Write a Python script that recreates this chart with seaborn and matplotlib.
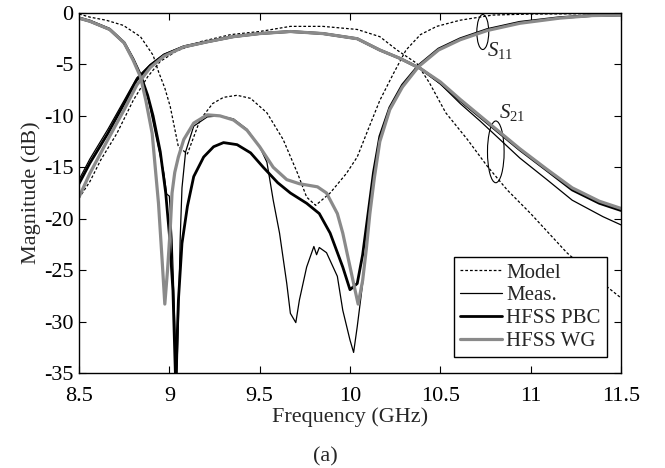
import matplotlib
matplotlib.use("Agg")
import matplotlib.pyplot as plt
import seaborn as sns
from matplotlib.patches import Ellipse
from matplotlib.ticker import FormatStrFormatter

# ---- data (frequency in GHz, magnitude in dB) ----
model_s11_f = [8.5, 8.56, 8.65, 8.745, 8.84, 8.91, 8.94, 8.975, 9.005, 9.05, 9.10, 9.17,
               9.24, 9.30, 9.375, 9.45, 9.54, 9.63, 9.71, 9.76, 9.81, 9.89, 9.98, 10.04,
               10.11, 10.165, 10.24, 10.31, 10.39, 10.48, 10.61, 10.79, 11.0, 11.5]
model_s11_db = [-0.1, -0.4, -0.7, -1.2, -2.3, -4.1, -5.7, -7.3, -9.1, -13.0, -13.7, -10.4,
                -8.8, -8.2, -8.0, -8.3, -9.7, -12.3, -15.6, -17.9, -18.7, -17.5, -15.6, -14.0,
                -10.9, -8.5, -5.9, -3.6, -2.1, -1.3, -0.7, -0.2, -0.1, -0.05]

model_s21_f = [8.5, 8.56, 8.62, 8.71, 8.80, 8.88, 8.95, 9.04, 9.17, 9.34, 9.50, 9.67, 9.85,
               10.04, 10.165, 10.26, 10.37, 10.44, 10.53, 10.65, 10.76, 10.87, 11.0, 11.2,
               11.35, 11.5]
model_s21_db = [-18.0, -16.4, -14.3, -11.7, -8.5, -6.2, -4.7, -3.7, -2.8, -2.1, -1.8, -1.3, -1.3,
                -1.6, -2.3, -3.6, -4.9, -6.8, -9.7, -12.3, -14.9, -17.2, -19.5, -23.3,
                -25.6, -27.7]

meas_s11_f = [8.5, 8.56, 8.67, 8.75, 8.80, 8.84, 8.885, 8.93, 8.97, 8.985, 9.0, 9.015, 9.03,
              9.04, 9.05, 9.06, 9.07, 9.09, 9.135, 9.21, 9.28, 9.355, 9.43, 9.50, 9.54, 9.575,
              9.61, 9.65, 9.67, 9.70, 9.72, 9.76, 9.80, 9.815, 9.83, 9.87, 9.93, 9.96, 10.0,
              10.02, 10.04, 10.07, 10.1, 10.13, 10.165, 10.22, 10.29, 10.38, 10.49, 10.61,
              10.76, 10.94, 11.16, 11.34, 11.5]
meas_s11_db = [-0.4, -0.7, -1.5, -2.8, -4.4, -6.0, -8.5, -12.3, -15.6, -17.6, -17.8, -22.0, -30.0,
               -37.0, -30.0, -22.0, -17.0, -13.5, -11.0, -10.1, -10.0, -10.3, -11.3, -13.0, -14.5,
               -18.2, -21.4, -26.3, -29.2, -30.1, -27.9, -24.7, -22.7, -23.5, -22.8, -23.3, -25.6,
               -28.9, -31.8, -33.0, -30.5, -26.3, -20.5, -16.0, -12.3, -9.4, -7.2, -5.2, -3.6,
               -2.6, -1.6, -0.9, -0.45, -0.25, -0.2]

meas_s21_f = [8.5, 8.56, 8.66, 8.75, 8.82, 8.895, 8.97, 9.08, 9.21, 9.355, 9.50, 9.67, 9.85,
              10.04, 10.165, 10.275, 10.39, 10.50, 10.61, 10.72, 10.83, 10.94, 11.09, 11.23,
              11.40, 11.5]
meas_s21_db = [-16.2, -14.2, -11.3, -8.5, -6.3, -5.0, -4.0, -3.2, -2.7, -2.3, -2.0, -1.8, -2.0,
               -2.5, -3.6, -4.4, -5.4, -6.9, -8.8, -10.5, -12.3, -14.1, -16.2, -18.2,
               -19.8, -20.6]

pbc_s11_f = [8.5, 8.56, 8.67, 8.75, 8.80, 8.84, 8.88, 8.91, 8.95, 8.98, 9.0, 9.02, 9.035, 9.05,
             9.07, 9.10, 9.135, 9.19, 9.245, 9.30, 9.375, 9.45, 9.52, 9.60, 9.67, 9.76, 9.83,
             9.89, 9.96, 10.0, 10.04, 10.07, 10.1, 10.13, 10.165, 10.22, 10.29, 10.38, 10.49,
             10.61, 10.76, 10.94, 11.16, 11.34, 11.5]
pbc_s11_db = [-0.5, -0.8, -1.6, -2.9, -4.5, -6.0, -8.0, -10.0, -13.5, -17.5, -21.5, -27.0, -36.0,
              -28.0, -22.4, -18.8, -15.9, -14.0, -13.0, -12.6, -12.8, -13.6, -15.0, -16.5, -17.5,
              -18.5, -19.5, -21.4, -24.7, -26.9, -26.3, -23.5, -19.5, -15.5, -12.0, -9.2, -7.0,
              -5.1, -3.5, -2.5, -1.6, -0.9, -0.45, -0.25, -0.2]

pbc_s21_f = [8.5, 8.56, 8.66, 8.75, 8.82, 8.895, 8.97, 9.08, 9.21, 9.355, 9.50, 9.67, 9.85,
             10.04, 10.165, 10.275, 10.39, 10.50, 10.61, 10.72, 10.83, 10.94, 11.09, 11.23,
             11.38, 11.5]
pbc_s21_db = [-16.6, -14.6, -11.7, -8.8, -6.5, -5.1, -4.1, -3.3, -2.8, -2.3, -2.0, -1.8, -2.0,
              -2.5, -3.6, -4.4, -5.4, -6.8, -8.5, -10.1, -11.7, -13.3, -15.3, -17.2,
              -18.5, -19.2]

wg_s11_f = [8.5, 8.56, 8.67, 8.75, 8.80, 8.84, 8.87, 8.905, 8.925, 8.94, 8.96, 8.975, 8.99,
            9.005, 9.015, 9.03, 9.05, 9.08, 9.135, 9.21, 9.28, 9.355, 9.43, 9.50, 9.575, 9.65,
            9.72, 9.82, 9.87, 9.93, 9.96, 10.02, 10.045, 10.07, 10.09, 10.11, 10.135, 10.165,
            10.22, 10.29, 10.38, 10.49, 10.61, 10.76, 10.94, 11.16, 11.34, 11.5]
wg_s11_db = [-0.5, -0.8, -1.6, -2.9, -4.6, -6.2, -8.5, -11.7, -15.6, -18.5, -24.0, -28.3, -25.0,
             -21.0, -17.5, -15.5, -14.0, -12.3, -10.7, -9.9, -10.0, -10.4, -11.4, -13.0, -15.0,
             -16.2, -16.6, -16.9, -17.5, -19.5, -21.4, -26.3, -28.3, -26.0, -23.0, -19.5, -16.0,
             -12.5, -9.4, -7.2, -5.2, -3.6, -2.6, -1.7, -1.0, -0.5, -0.25, -0.2]

wg_s21_f = [8.5, 8.56, 8.66, 8.75, 8.82, 8.895, 8.97, 9.08, 9.21, 9.355, 9.50, 9.67, 9.85,
            10.04, 10.165, 10.275, 10.39, 10.50, 10.61, 10.72, 10.83, 10.94, 11.09, 11.23,
            11.38, 11.5]
wg_s21_db = [-17.9, -15.6, -12.3, -9.4, -7.0, -5.3, -4.2, -3.3, -2.8, -2.3, -2.0, -1.8, -2.0,
             -2.5, -3.6, -4.4, -5.4, -6.7, -8.4, -10.0, -11.6, -13.2, -15.2, -17.0,
             -18.3, -19.0]

sns.set_style("ticks")
plt.rcParams["font.family"] = ["Liberation Serif", "DejaVu Serif"]
plt.rcParams["mathtext.fontset"] = "custom"
plt.rcParams["mathtext.rm"] = "Liberation Serif"
plt.rcParams["mathtext.it"] = "Liberation Serif:italic"
plt.rcParams["axes.unicode_minus"] = False

fig = plt.figure(figsize=(6.65, 4.68), dpi=100)
ax = fig.add_axes([79 / 665, 1 - 373 / 468, 542 / 665, 360 / 468])

dotted = (0, (2.2, 1.6))
sty = {
    "Model": dict(color="black", lw=0.9, ls=dotted),
    "Meas.": dict(color="black", lw=0.9, ls="-"),
    "HFSS PBC": dict(color="black", lw=2.0, ls="-"),
    "HFSS WG": dict(color="#8a8a8a", lw=2.3, ls="-"),
}

curves = [
    ("Model", model_s11_f, model_s11_db, model_s21_f, model_s21_db),
    ("Meas.", meas_s11_f, meas_s11_db, meas_s21_f, meas_s21_db),
    ("HFSS PBC", pbc_s11_f, pbc_s11_db, pbc_s21_f, pbc_s21_db),
    ("HFSS WG", wg_s11_f, wg_s11_db, wg_s21_f, wg_s21_db),
]

for name, f11, s11, f21, s21 in curves:
    s = sty[name]
    sns.lineplot(x=f11, y=s11, ax=ax, color=s["color"], lw=s["lw"], linestyle=s["ls"],
                 estimator=None, sort=False, label=name)
    sns.lineplot(x=f21, y=s21, ax=ax, color=s["color"], lw=s["lw"], linestyle=s["ls"],
                 estimator=None, sort=False)

ax.set_xlim(8.5, 11.5)
ax.set_ylim(-35, 0)
ax.set_xticks([8.5, 9, 9.5, 10, 10.5, 11, 11.5])
ax.set_yticks([-35, -30, -25, -20, -15, -10, -5, 0])
ax.xaxis.set_major_formatter(FormatStrFormatter("%g"))
ax.yaxis.set_major_formatter(FormatStrFormatter("%g"))
ax.tick_params(direction="in", length=5, width=0.8, top=True, right=True,
               labelsize=16, pad=4, colors="black")
ax.tick_params(axis="x", pad=10)
for sp in ax.spines.values():
    sp.set_visible(True)
    sp.set_linewidth(1.0)
    sp.set_color("black")

ax.set_xlabel("Frequency (GHz)", fontsize=16, labelpad=1)
ax.set_ylabel("Magnitude (dB)", fontsize=16, labelpad=2)

# annotation ellipses and labels
ax.add_patch(Ellipse((10.735, -1.85), 0.066, 3.4, fill=False, lw=0.8, color="black"))
ax.add_patch(Ellipse((10.807, -13.5), 0.092, 6.0, fill=False, lw=0.8, color="black"))
ax.text(10.76, -3.6, r"$\mathit{S}_{\mathit{11}}$", fontsize=15, ha="left", va="center")
ax.text(10.825, -9.7, r"$\mathit{S}_{\mathit{21}}$", fontsize=15, ha="left", va="center")

leg = ax.legend(loc="lower right", bbox_to_anchor=(0.974, 0.044), fontsize=15,
                frameon=True, fancybox=False, framealpha=1, edgecolor="black",
                handlelength=2.0, handletextpad=0.2, labelspacing=0.15,
                borderpad=0.3, borderaxespad=0)
leg.get_frame().set_linewidth(1.0)

fig.text(325 / 665, 1 - 457 / 468, "(a)", fontsize=16, ha="center", va="center")

fig.savefig("out.png", dpi=100)
